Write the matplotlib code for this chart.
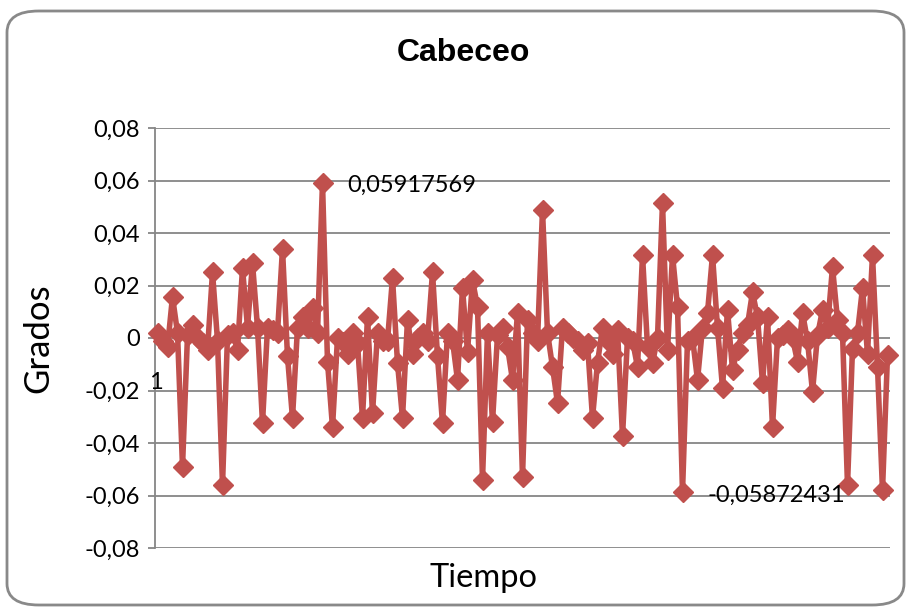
import matplotlib.pyplot as plt
from matplotlib.patches import FancyBboxPatch
import numpy as np

# Data (one value per sample, left to right)
cabeceo = [
    0.002, -0.001, -0.0035, 0.0157, 0.002, -0.049, 0.001, 0.005, 0.000, -0.002,
    -0.0045, 0.025, -0.001, -0.056, 0.001, 0.002, -0.0045, 0.0266, 0.004, 0.0285,
    0.004, -0.0324, 0.004, 0.003, 0.002, 0.034, -0.007, -0.0305, 0.004, 0.008,
    0.004, 0.0114, 0.002, 0.05917569, -0.009, -0.034, 0.000, -0.0015, -0.006, 0.002,
    -0.002, -0.0305, 0.008, -0.0287, 0.002, -0.001, -0.001, 0.0228, -0.0095, -0.0305,
    0.007, -0.006, 0.000, 0.002, -0.001, 0.025, -0.007, -0.0324, 0.002, -0.001,
    -0.016, 0.019, -0.0053, 0.022, 0.012, -0.054, 0.002, -0.032, 0.001, 0.004,
    -0.0034, -0.016, 0.0095, -0.053, 0.007, 0.002, -0.001, 0.0488, 0.002, -0.011,
    -0.0248, 0.004, 0.002, 0.000, -0.001, -0.0045, -0.002, -0.0305, -0.0095, 0.004,
    -0.001, -0.006, 0.003, -0.0375, 0.000, -0.001, -0.011, 0.0316, -0.0034, -0.0095,
    0.000, 0.0514, -0.0045, 0.0316, 0.012, -0.05872431, -0.001, 0.000, -0.016, 0.004,
    0.0095, 0.0316, 0.004, -0.019, 0.0107, -0.012, -0.0045, 0.002, 0.005, 0.0175,
    0.008, -0.017, 0.008, -0.034, 0.000, 0.001, 0.003, 0.000, -0.009, 0.0095,
    -0.001, -0.0205, 0.001, 0.0107, 0.004, 0.027, 0.007, 0.002, -0.056, -0.004,
    0.002, 0.019, -0.006, 0.0316, -0.011, -0.058, -0.0065,
]
yticks = [-0.08, -0.06, -0.04, -0.02, 0, 0.02, 0.04, 0.06, 0.08]
ytick_labels = ["-0,08", "-0,06", "-0,04", "-0,02", "0", "0,02", "0,04", "0,06", "0,08"]

red = "#C0504D"
grid = "#868686"
font = "Lato"

fig = plt.figure(figsize=(9.09, 6.10), dpi=100)

# rounded chart frame
frame = FancyBboxPatch((7 / 909, 5 / 610), 897 / 909, 594 / 610,
                       boxstyle="round,pad=0,rounding_size=0.035",
                       transform=fig.transFigure, facecolor="none",
                       edgecolor="#898989", linewidth=2, zorder=-1)
fig.patches.append(frame)

ax = fig.add_axes([155 / 909, 62 / 610, 735 / 909, 420 / 610])
ax.set_facecolor("none")

n = len(cabeceo)
x = np.arange(n) + 0.5
ax.plot(x, cabeceo, color=red, linewidth=4, marker="D", markersize=10,
        markerfacecolor=red, markeredgecolor=red, zorder=3, clip_on=False)

ax.set_xlim(0, n)
ax.set_ylim(-0.08, 0.08)
ax.set_yticks(yticks)
ax.set_yticklabels(ytick_labels, fontfamily=font, fontsize=17)
ax.set_xticks([])
ax.yaxis.grid(True, color=grid, linewidth=1.3)
ax.set_axisbelow(True)
ax.tick_params(axis="y", length=5, color=grid, width=1.3, pad=6)
for side in ["top", "right", "bottom"]:
    ax.spines[side].set_visible(False)
ax.spines["left"].set_color(grid)
ax.spines["left"].set_linewidth(1.3)

# category label at the axis crossing
ax.text(0.2, -0.0168, "1", fontfamily=font, fontsize=17, ha="center", va="center")

# data labels for max and min
imax = int(np.argmax(cabeceo))
imin = int(np.argmin(cabeceo[100:110])) + 100
ax.annotate("0,05917569", (x[imax], cabeceo[imax]), xytext=(18, -2),
            textcoords="offset points", fontfamily=font, fontsize=17, va="center")
ax.annotate("-0,05872431", (x[imin], cabeceo[imin]), xytext=(18, -2),
            textcoords="offset points", fontfamily=font, fontsize=17, va="center")

fig.text(463 / 909, 1 - 53 / 610, "Cabeceo", fontfamily="Liberation Sans",
         fontweight="bold", fontsize=23, ha="center", va="center")
fig.text(38 / 909, 1 - 338 / 610, "Grados", fontfamily=font, fontsize=25,
         rotation=90, ha="center", va="center")
fig.text(483 / 909, 1 - 578 / 610, "Tiempo", fontfamily=font, fontsize=23.5,
         ha="center", va="center")

fig.savefig("out.png", dpi=100)
